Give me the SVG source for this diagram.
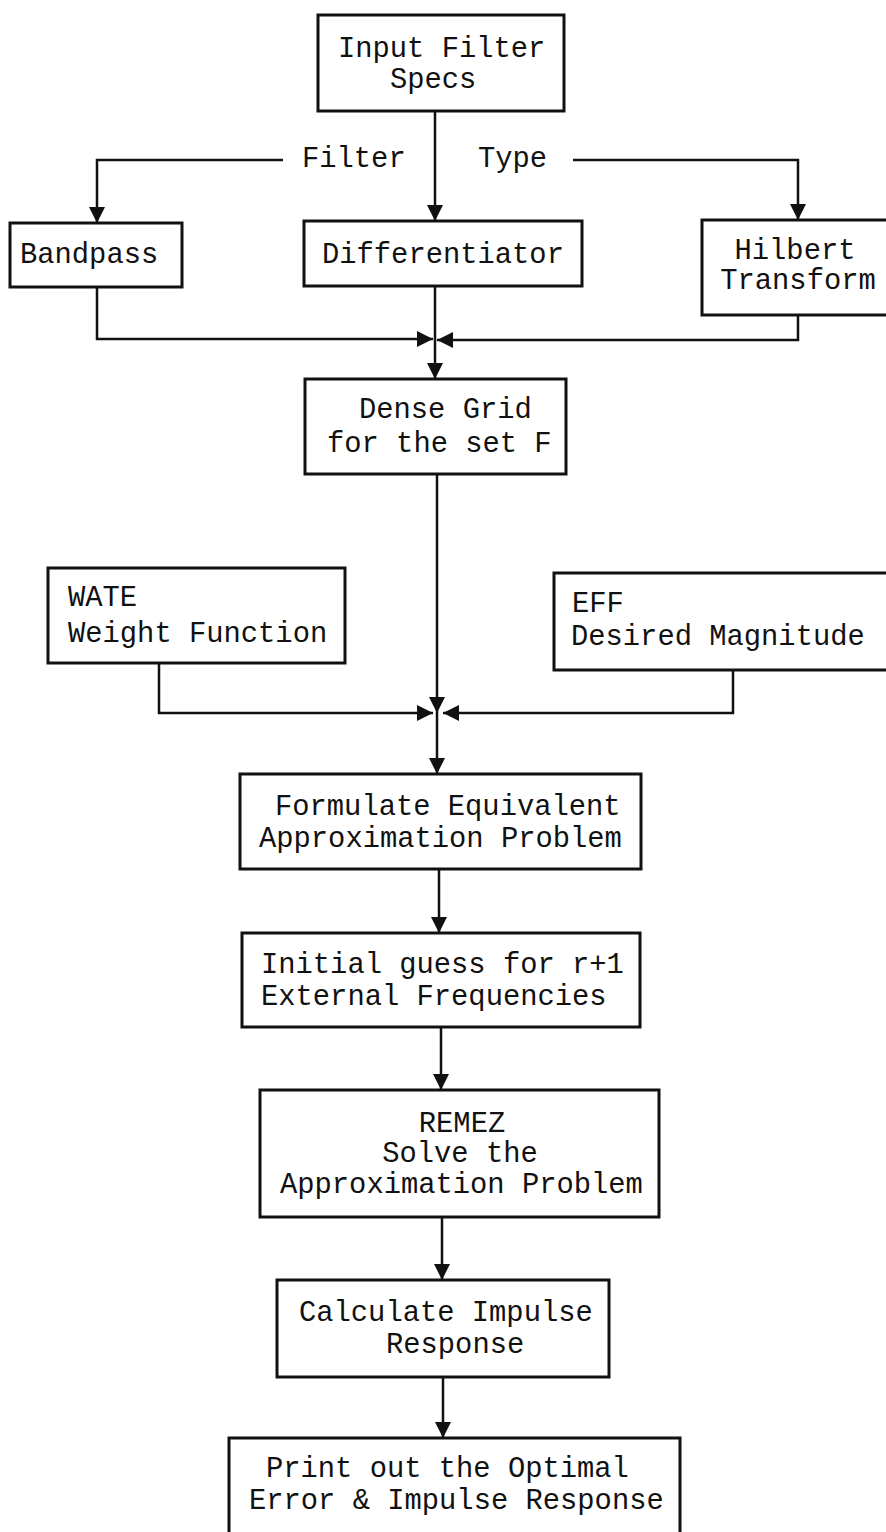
<svg xmlns="http://www.w3.org/2000/svg" width="886" height="1532" viewBox="0 0 886 1532">
<style>
.box{fill:#fff;stroke:#111;stroke-width:3}
.t{font-family:"Liberation Mono","Courier New",monospace;font-size:28.8px;fill:#111}
.m{text-anchor:middle}
.c{fill:none;stroke:#111;stroke-width:2.5}
</style>
<defs>
<marker id="ah" markerUnits="userSpaceOnUse" markerWidth="17" markerHeight="17" refX="16" refY="8" orient="auto">
<path d="M0,0 L16,8 L0,16 Z" fill="#111"/>
</marker>
</defs>
<rect width="886" height="1532" fill="#fff"/>
<g id="connectors">
<path class="c" d="M435,111 V221" marker-end="url(#ah)"/>
<path class="c" d="M283,160 H97 V223" marker-end="url(#ah)"/>
<path class="c" d="M573,160 H798 V220" marker-end="url(#ah)"/>
<path class="c" d="M97,287 V339 H433" marker-end="url(#ah)"/>
<path class="c" d="M798,315 V340 H437" marker-end="url(#ah)"/>
<path class="c" d="M435,286 V379" marker-end="url(#ah)"/>
<path class="c" d="M437,474 V713" marker-end="url(#ah)"/>
<path class="c" d="M437,713 V774" marker-end="url(#ah)"/>
<path class="c" d="M159,663 V713 H433" marker-end="url(#ah)"/>
<path class="c" d="M733,670 V713 H443" marker-end="url(#ah)"/>
<path class="c" d="M439,869 V933" marker-end="url(#ah)"/>
<path class="c" d="M441,1027 V1090" marker-end="url(#ah)"/>
<path class="c" d="M442,1217 V1280" marker-end="url(#ah)"/>
<path class="c" d="M443,1377 V1438" marker-end="url(#ah)"/>
<text class="t" x="302" y="167">Filter</text>
<text class="t" x="478" y="167">Type</text>
</g>
<g id="input">
<rect class="box" x="318" y="15" width="246" height="96"/>
<text class="t" x="338" y="57">Input Filter</text>
<text class="t" x="390" y="88">Specs</text>
</g>
<g id="bandpass">
<rect class="box" x="10" y="223" width="172" height="64"/>
<text class="t" x="20" y="263">Bandpass</text>
</g>
<g id="differentiator">
<rect class="box" x="304" y="221" width="278" height="65"/>
<text class="t" x="322" y="263">Differentiator</text>
</g>
<g id="hilbert">
<rect class="box" x="702" y="220" width="192" height="95"/>
<text class="t m" x="795" y="259">Hilbert</text>
<text class="t m" x="798" y="289">Transform</text>
</g>
<g id="densegrid">
<rect class="box" x="305" y="379" width="261" height="95"/>
<text class="t" x="359" y="418">Dense Grid</text>
<text class="t" x="327" y="452">for the set F</text>
</g>
<g id="wate">
<rect class="box" x="48" y="568" width="297" height="95"/>
<text class="t" x="68" y="606">WATE</text>
<text class="t" x="68" y="642">Weight Function</text>
</g>
<g id="eff">
<rect class="box" x="554" y="573" width="340" height="97"/>
<text class="t" x="572" y="612">EFF</text>
<text class="t" x="571" y="645">Desired Magnitude</text>
</g>
<g id="formulate">
<rect class="box" x="240" y="774" width="401" height="95"/>
<text class="t" x="275" y="815">Formulate Equivalent</text>
<text class="t" x="259" y="847">Approximation Problem</text>
</g>
<g id="initial">
<rect class="box" x="242" y="933" width="398" height="94"/>
<text class="t" x="261" y="973">Initial guess for r+1</text>
<text class="t" x="261" y="1005">External Frequencies</text>
</g>
<g id="remez">
<rect class="box" x="260" y="1090" width="399" height="127"/>
<text class="t m" x="462" y="1132">REMEZ</text>
<text class="t m" x="460" y="1162">Solve the</text>
<text class="t" x="280" y="1193">Approximation Problem</text>
</g>
<g id="calculate">
<rect class="box" x="277" y="1280" width="332" height="97"/>
<text class="t" x="299" y="1321">Calculate Impulse</text>
<text class="t" x="386" y="1353">Response</text>
</g>
<g id="print">
<rect class="box" x="229" y="1438" width="451" height="104"/>
<text class="t" x="266" y="1477">Print out the Optimal</text>
<text class="t" x="249" y="1509">Error &amp; Impulse Response</text>
</g>
</svg>
